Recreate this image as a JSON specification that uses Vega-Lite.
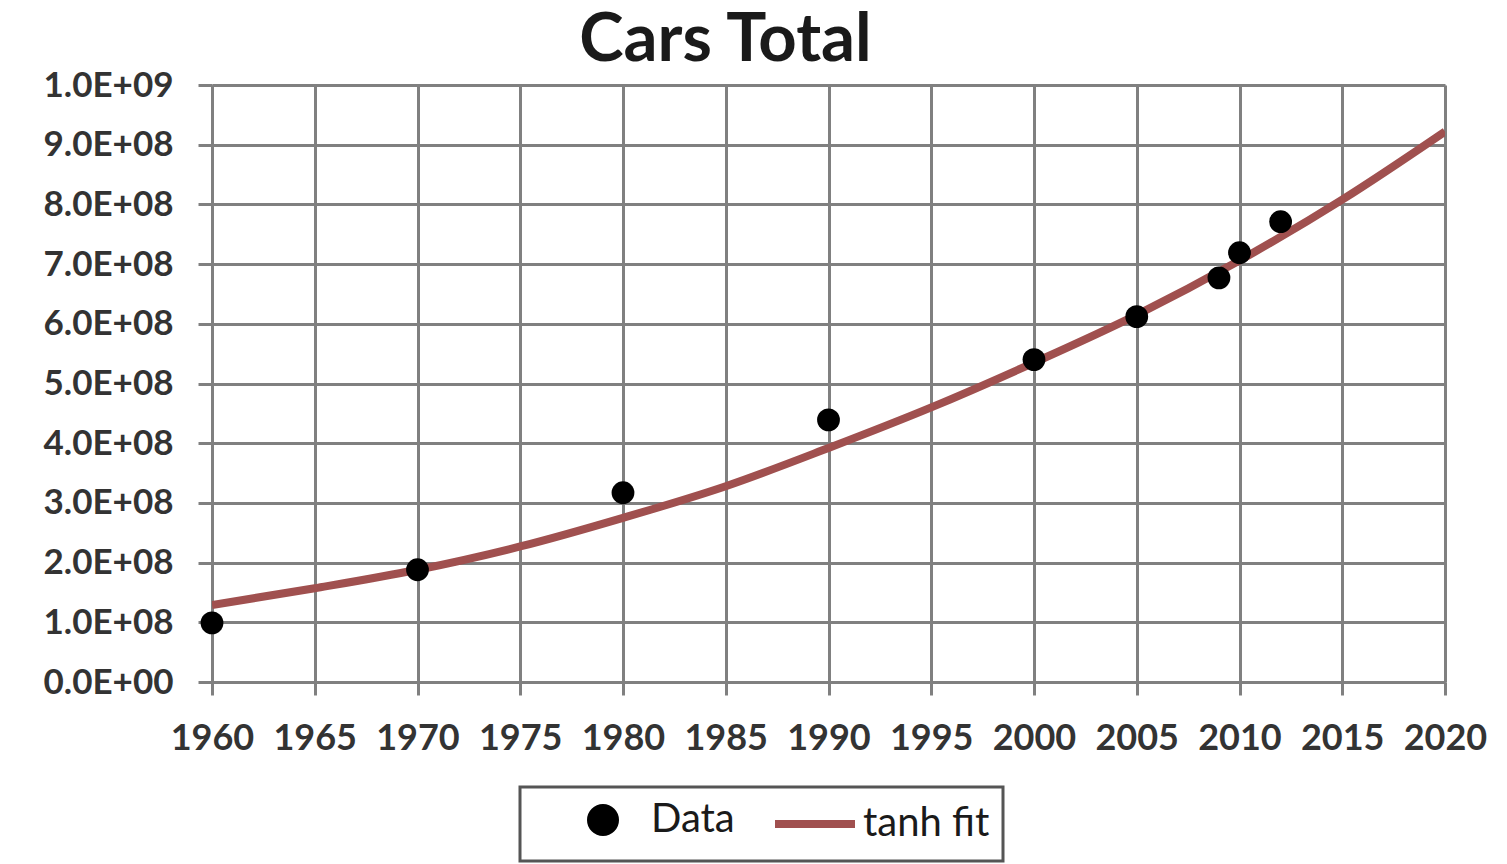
{
  "$schema": "https://vega.github.io/schema/vega-lite/v6.json",
  "autosize": {"type": "none"},
  "width": 1233,
  "height": 597,
  "padding": {"left": 212, "top": 85, "right": 62, "bottom": 182},
  "background": "white",
  "title": {
    "text": "Cars Total",
    "font": "Lato",
    "fontSize": 67,
    "fontWeight": "bold",
    "color": "#1a1a1a",
    "anchor": "middle",
    "dx": -103,
    "offset": -7
  },
  "datasets": {
    "observed": [
      {"year": 1960, "cars": 99000000, "series": "Data"},
      {"year": 1970, "cars": 188000000, "series": "Data"},
      {"year": 1980, "cars": 317000000, "series": "Data"},
      {"year": 1990, "cars": 439000000, "series": "Data"},
      {"year": 2000, "cars": 540000000, "series": "Data"},
      {"year": 2005, "cars": 612000000, "series": "Data"},
      {"year": 2009, "cars": 677000000, "series": "Data"},
      {"year": 2010, "cars": 719000000, "series": "Data"},
      {"year": 2012, "cars": 771000000, "series": "Data"}
    ],
    "fit": [
      {"year": 1960, "cars": 129000000, "series": "tanh fit"},
      {"year": 1965, "cars": 157000000, "series": "tanh fit"},
      {"year": 1970, "cars": 188000000, "series": "tanh fit"},
      {"year": 1975, "cars": 227000000, "series": "tanh fit"},
      {"year": 1980, "cars": 275000000, "series": "tanh fit"},
      {"year": 1985, "cars": 328000000, "series": "tanh fit"},
      {"year": 1990, "cars": 392000000, "series": "tanh fit"},
      {"year": 1995, "cars": 460000000, "series": "tanh fit"},
      {"year": 2000, "cars": 535000000, "series": "tanh fit"},
      {"year": 2005, "cars": 615000000, "series": "tanh fit"},
      {"year": 2010, "cars": 706000000, "series": "tanh fit"},
      {"year": 2015, "cars": 808000000, "series": "tanh fit"},
      {"year": 2020, "cars": 922000000, "series": "tanh fit"}
    ]
  },
  "encoding": {
    "x": {
      "field": "year",
      "type": "quantitative",
      "scale": {"domain": [1960, 2020], "nice": false, "zero": false},
      "axis": {
        "title": null,
        "values": [1960, 1965, 1970, 1975, 1980, 1985, 1990, 1995, 2000, 2005, 2010, 2015, 2020],
        "format": "d",
        "labelFont": "Lato",
        "labelFontSize": 36,
        "labelFontWeight": "bold",
        "labelColor": "#333333",
        "labelPadding": 26,
        "tickSize": 13,
        "tickWidth": 3,
        "tickColor": "#808080",
        "domainColor": "#808080",
        "domainWidth": 3,
        "grid": true,
        "gridColor": "#808080",
        "gridWidth": 3,
        "gridOpacity": 1,
        "labelFlush": false,
        "labelOverlap": false
      }
    },
    "y": {
      "field": "cars",
      "type": "quantitative",
      "scale": {"domain": [0, 1000000000], "nice": false},
      "axis": {
        "title": null,
        "values": [0, 100000000, 200000000, 300000000, 400000000, 500000000, 600000000, 700000000, 800000000, 900000000, 1000000000],
        "labelExpr": "replace(upper(format(datum.value, '.1e')), regexp('E\\\\+(\\\\d)$'), 'E+0$1')",
        "labelFont": "Lato",
        "labelFontSize": 35,
        "labelFontWeight": "bold",
        "labelColor": "#333333",
        "labelPadding": 25,
        "tickSize": 14,
        "tickWidth": 3,
        "tickColor": "#808080",
        "domainColor": "#808080",
        "domainWidth": 3,
        "grid": true,
        "gridColor": "#808080",
        "gridWidth": 3,
        "gridOpacity": 1,
        "labelFlush": false,
        "labelOverlap": false
      }
    },
    "color": {
      "field": "series",
      "type": "nominal",
      "scale": {"domain": ["Data", "tanh fit"], "range": ["#000000", "#a0504f"]},
      "legend": {
        "title": null,
        "orient": "none",
        "legendX": 308,
        "legendY": 702,
        "direction": "horizontal",
        "strokeColor": "#555555",
        "fillColor": "white",
        "padding": 13,
        "labelFont": "Lato",
        "labelFontSize": 40,
        "labelColor": "#1a1a1a",
        "labelOffset": 28,
        "symbolSize": 1024,
        "symbolStrokeWidth": 8,
        "symbolOffset": 50,
        "columnPadding": 10,
        "encode": {
          "legend": {"update": {"strokeWidth": {"value": 3}}},
          "symbols": {
            "update": {
              "shape": {"signal": "datum.value === 'Data' ? 'M-0.75,0A0.75,0.75 0 1,0 0.75,0A0.75,0.75 0 1,0 -0.75,0Z' : 'M-2.5,0L2.5,0'"},
              "fill": {"signal": "datum.value === 'Data' ? '#000000' : 'transparent'"},
              "stroke": {"signal": "datum.value === 'Data' ? 'transparent' : '#a0504f'"},
              "opacity": {"value": 1}
            }
          }
        }
      }
    }
  },
  "layer": [
    {
      "data": {"name": "fit"},
      "mark": {"type": "line", "interpolate": "monotone", "strokeWidth": 8, "clip": true}
    },
    {
      "data": {"name": "observed"},
      "mark": {"type": "point", "shape": "circle", "filled": true, "size": 520, "opacity": 1}
    }
  ]
}
